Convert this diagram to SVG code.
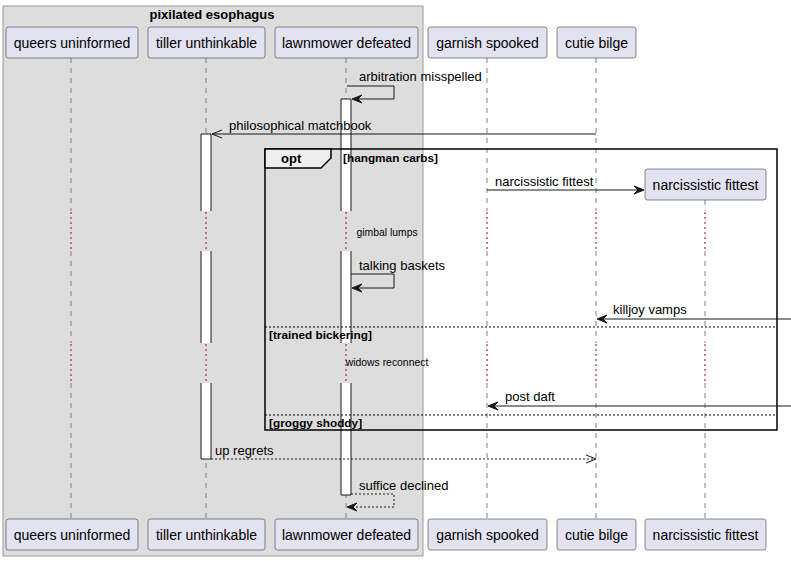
<svg xmlns="http://www.w3.org/2000/svg" width="791" height="561" viewBox="0 0 791 561">
<style>
.p rect{fill:#E2E2F0;stroke:#181818;stroke-width:0.5}
.p text{font-family:"Liberation Sans",Arial,sans-serif;font-size:14px;fill:#000;text-anchor:middle}
.life{stroke:#808080;stroke-width:1;stroke-dasharray:5,5;fill:none}
.dot{stroke:#A80036;stroke-width:1;stroke-dasharray:2,3;fill:none}
.act{fill:#FFFFFF;stroke:none}
.actl{stroke:#181818;stroke-width:1;fill:none}
.msg{stroke:#181818;stroke-width:1;fill:none}
.dash{stroke:#181818;stroke-width:1;stroke-dasharray:2,2;fill:none}
.head{fill:#181818;stroke:#181818;stroke-width:1}
.t{font-family:"Liberation Sans",Arial,sans-serif;font-size:13px;fill:#000}
.d{font-family:"Liberation Sans",Arial,sans-serif;font-size:10.4px;fill:#000;text-anchor:middle}
.b{font-family:"Liberation Sans",Arial,sans-serif;font-size:11.8px;font-weight:bold;fill:#000}
</style>

<g id="box-pixilated-esophagus">
<rect x="3" y="6" width="420" height="550" fill="#DDDDDD" stroke="#999999" stroke-width="1"/>
<text x="212" y="19" text-anchor="middle" font-family="Liberation Sans, Arial, sans-serif" font-size="13" font-weight="bold">pixilated esophagus</text>
</g>

<g id="lifelines">
<path class="life" d="M71,58V211M71,251V343M71,383V519"/>
<path class="life" d="M206,58V211M206,251V343M206,383V519"/>
<path class="life" d="M346,58V211M346,251V343M346,383V519"/>
<path class="life" d="M487,58V211M487,251V343M487,383V519"/>
<path class="life" d="M596,58V211M596,251V343M596,383V519"/>
<path class="life" d="M705,200V211M705,251V343M705,383V519"/>
<path class="dot" d="M71,212V251M206,212V251M346,212V251M487,212V251M596,212V251M705,212V251"/>
<path class="dot" d="M71,344V383M206,344V383M346,344V383M487,344V383M596,344V383M705,344V383"/>
</g>

<g id="activations">
<rect class="act" x="201" y="134" width="10" height="77"/>
<rect class="act" x="201" y="251" width="10" height="92"/>
<rect class="act" x="201" y="383" width="10" height="76"/>
<path class="actl" d="M201,134H211M201,134V211M211,134V211M201,251V343M211,251V343M201,383V459H211V383"/>
<rect class="act" x="341" y="99" width="10" height="112"/>
<rect class="act" x="341" y="251" width="10" height="92"/>
<rect class="act" x="341" y="383" width="10" height="112"/>
<path class="actl" d="M341,99H351M341,99V211M351,99V211M341,251V343M351,251V343M341,383V495H351V383"/>
</g>

<g id="frame-opt">
<rect x="265" y="149" width="512" height="281" fill="none" stroke="#000" stroke-width="1.5"/>
<path d="M265,149H331V158L321,168H265Z" fill="#EEEEEE" stroke="#000" stroke-width="1.5"/>
<text x="281" y="163" font-family="Liberation Sans, Arial, sans-serif" font-size="13" font-weight="bold">opt</text>
<text class="b" x="343" y="162">[hangman carbs]</text>
<line x1="265" y1="327" x2="777" y2="327" stroke="#000" stroke-width="1" stroke-dasharray="2,2"/>
<text class="b" x="269" y="339">[trained bickering]</text>
<line x1="265" y1="415" x2="777" y2="415" stroke="#000" stroke-width="1" stroke-dasharray="2,2"/>
<text class="b" x="269" y="427">[groggy shoddy]</text>
</g>

<g id="connectors">
<path class="msg" d="M347,86H394V99H353"/>
<polygon class="head" points="352,99 362,95 358,99 362,103"/>
<text class="t" x="359" y="81">arbitration misspelled</text>

<line class="msg" x1="596" y1="134" x2="212" y2="134"/>
<path class="msg" d="M222,130L212,134L222,138"/>
<text class="t" x="229" y="130">philosophical matchbook</text>

<line class="msg" x1="487" y1="190" x2="640" y2="190"/>
<polygon class="head" points="644,190 634,186 638,190 634,194"/>
<text class="t" x="495" y="186">narcissistic fittest</text>

<text class="d" x="387" y="236">gimbal lumps</text>

<path class="msg" d="M351,274H394V288H353"/>
<polygon class="head" points="352,288 362,284 358,288 362,292"/>
<text class="t" x="359" y="270">talking baskets</text>

<line class="msg" x1="791" y1="319" x2="600" y2="319"/>
<polygon class="head" points="597,319 607,315 603,319 607,323"/>
<text class="t" x="613" y="314">killjoy vamps</text>

<text class="d" x="387" y="366">widows reconnect</text>

<line class="msg" x1="791" y1="406" x2="491" y2="406"/>
<polygon class="head" points="488,406 498,402 494,406 498,410"/>
<text class="t" x="505" y="401">post daft</text>

<line class="dash" x1="211" y1="459" x2="595" y2="459"/>
<path class="msg" d="M586,455L596,459L586,463"/>
<text class="t" x="215" y="455">up regrets</text>

<path class="dash" d="M351,494H394V507H349"/>
<polygon class="head" points="347,507 357,503 353,507 357,511"/>
<text class="t" x="359" y="490">suffice declined</text>
</g>

<g id="p-queers-uninformed" class="p">
<rect x="6" y="27" width="132" height="31" rx="2.5"/><text x="72" y="48">queers uninformed</text>
<rect x="6" y="519" width="132" height="31" rx="2.5"/><text x="72" y="540">queers uninformed</text>
</g>
<g id="p-tiller-unthinkable" class="p">
<rect x="148" y="27" width="117" height="31" rx="2.5"/><text x="206.5" y="48">tiller unthinkable</text>
<rect x="148" y="519" width="117" height="31" rx="2.5"/><text x="206.5" y="540">tiller unthinkable</text>
</g>
<g id="p-lawnmower-defeated" class="p">
<rect x="275" y="27" width="143" height="31" rx="2.5"/><text x="346.5" y="48">lawnmower defeated</text>
<rect x="275" y="519" width="143" height="31" rx="2.5"/><text x="346.5" y="540">lawnmower defeated</text>
</g>
<g id="p-garnish-spooked" class="p">
<rect x="428" y="27" width="119" height="31" rx="2.5"/><text x="487.5" y="48">garnish spooked</text>
<rect x="428" y="519" width="119" height="31" rx="2.5"/><text x="487.5" y="540">garnish spooked</text>
</g>
<g id="p-cutie-bilge" class="p">
<rect x="557" y="27" width="79" height="31" rx="2.5"/><text x="596.5" y="48">cutie bilge</text>
<rect x="557" y="519" width="79" height="31" rx="2.5"/><text x="596.5" y="540">cutie bilge</text>
</g>
<g id="p-narcissistic-fittest" class="p">
<rect x="645" y="169" width="121" height="31" rx="2.5"/><text x="705.5" y="190">narcissistic fittest</text>
<rect x="645" y="519" width="121" height="31" rx="2.5"/><text x="705.5" y="540">narcissistic fittest</text>
</g>
</svg>
